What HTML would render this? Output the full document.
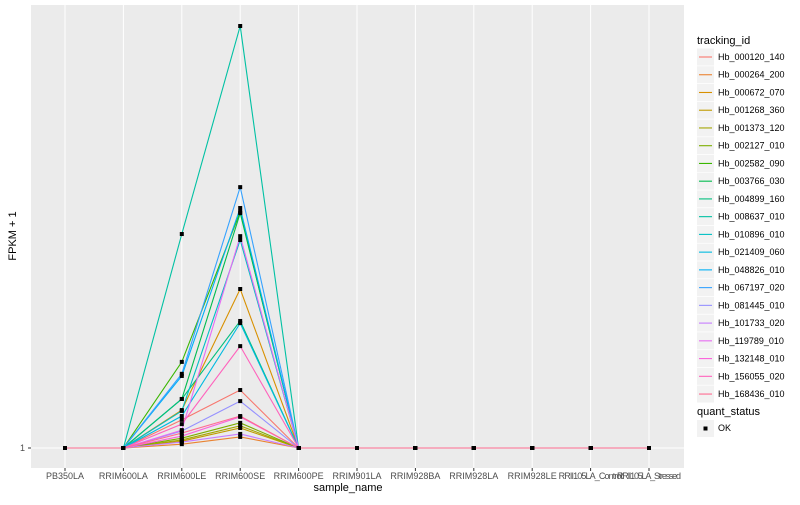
<!DOCTYPE html>
<html><head><meta charset="utf-8"><style>
body{margin:0;background:#fff;font-family:"Liberation Sans",sans-serif;}
svg text{font-family:"Liberation Sans",sans-serif;}
</style></head><body>
<svg id="chart" width="800" height="500">
<rect x="31" y="5" width="653" height="463" fill="#ebebeb"/>
<g id="grid"></g><g id="lines"></g><g id="pts"></g><g id="axes"></g><g id="legend"></g>
<text x="348" y="491" font-size="11" text-anchor="middle" fill="#000">sample_name</text>
<text x="16" y="236" font-size="11" text-anchor="middle" fill="#000" transform="rotate(-90 16 236)">FPKM + 1</text>
</svg>
<script>
const samples=["PB350LA","RRIM600LA","RRIM600LE","RRIM600SE","RRIM600PE","RRIM901LA","RRIM928BA","RRIM928LA","RRIM928LE","RRII105LA_Control","RRII105LA_Stressed"];
const ids=["Hb_000120_140","Hb_000264_200","Hb_000672_070","Hb_001268_360","Hb_001373_120","Hb_002127_010","Hb_002582_090","Hb_003766_030","Hb_004899_160","Hb_008637_010","Hb_010896_010","Hb_021409_060","Hb_048826_010","Hb_067197_020","Hb_081445_010","Hb_101733_020","Hb_119789_010","Hb_132148_010","Hb_156055_020","Hb_168436_010"];
const colors=["#F8766D","#EA8331","#D89000","#C09B00","#A3A500","#7CAE00","#39B600","#00BB4E","#00BF7D","#00C1A3","#00BFC4","#00BAE0","#00B0F6","#35A2FF","#9590FF","#C77CFF","#E76BF3","#FA62DB","#FF62BC","#FF6C91"];
// values at RRIM600LE and RRIM600SE; all other samples are 1
const leValues=[7.6,1.9,9.9,2.6,2.9,3.3,21.2,12.5,12.5,51.2,9.7,8.5,17.9,18.4,5.0,2.4,5.2,3.8,6.6,4.5];
const seValues=[14.6,3.6,38.3,5.7,6.2,6.9,56.4,56.1,30.8,100,49.8,30.3,57.3,62.2,12.0,4.3,50.7,8.3,24.9,8.5];
const yTicks=[1];
const NS="http://www.w3.org/2000/svg";
function mk(t,a,p){const e=document.createElementNS(NS,t);for(const k in a)e.setAttribute(k,a[k]);p.appendChild(e);return e;}
const xS=i=>65+i*58.4;
const yS=v=>448-(v-1)*4.2626;
const grid=document.getElementById('grid'),lines=document.getElementById('lines'),pts=document.getElementById('pts'),axes=document.getElementById('axes'),leg=document.getElementById('legend');
samples.forEach((s,i)=>{
 const l=mk('line',{x1:xS(i),x2:xS(i),y1:5,y2:468,stroke:'#fff','stroke-width':1},grid);
 
 
 const tk=mk('line',{x1:xS(i),x2:xS(i),y1:468,y2:471,stroke:'#333','stroke-width':1},axes);
 
 
 const t=mk('text',{x:xS(i),y:479,'font-size':9,'text-anchor':'middle',fill:'#4d4d4d',textLength:s.length>12?64:null},axes);
 if(!t.getAttribute('textLength')||t.getAttribute('textLength')==='null')t.removeAttribute('textLength');
 t.textContent=s;
 
 
});
yTicks.forEach(v=>{
 const l=mk('line',{x1:31,x2:684,y1:yS(v),y2:yS(v),stroke:'#fff','stroke-width':1},grid);
 
 
 const tk=mk('line',{x1:28,x2:31,y1:yS(v),y2:yS(v),stroke:'#333','stroke-width':1},axes);
 
 
 const t=mk('text',{x:25,y:yS(v)+3,'font-size':9,'text-anchor':'end',fill:'#4d4d4d'},axes);
 t.textContent=v;
 
 
});
const seriesVals=ids.map((id,k)=>samples.map((s,i)=>i===2?leValues[k]:i===3?seValues[k]:1));
seriesVals.forEach((vals,k)=>{
 const p=mk('polyline',{points:vals.map((v,i)=>xS(i)+','+yS(v)).join(' '),fill:'none',stroke:colors[k],'stroke-width':1.1},lines);
 
 
});
seriesVals.forEach((vals,k)=>vals.forEach((v,i)=>{
 const r=mk('rect',{x:xS(i)-2,y:yS(v)-2,width:4,height:4,fill:'#000'},pts);
 
 
}));
let t=mk('text',{x:697,y:44,'font-size':11,fill:'#000'},leg);t.textContent='tracking_id';


ids.forEach((id,k)=>{
 const y=57+k*17.74;
 const g=mk('g',{},leg);
 
 
 mk('rect',{x:697,y:y-8.5,width:17,height:17,fill:'#f2f2f2'},g);
 mk('line',{x1:699,x2:712,y1:y,y2:y,stroke:colors[k],'stroke-width':1.1},g);
 const tt=mk('text',{x:718,y:y+3,'font-size':9,fill:'#000'},g);tt.textContent=id;
});
t=mk('text',{x:697,y:415,'font-size':11,fill:'#000'},leg);t.textContent='quant_status';


const g2=mk('g',{},leg);


mk('rect',{x:697,y:420,width:17,height:17,fill:'#f2f2f2'},g2);
mk('rect',{x:703.5,y:426.5,width:4,height:4,fill:'#000'},g2);
const ok=mk('text',{x:718,y:431,'font-size':9,fill:'#000'},g2);ok.textContent='OK';
</script>
</body></html>
